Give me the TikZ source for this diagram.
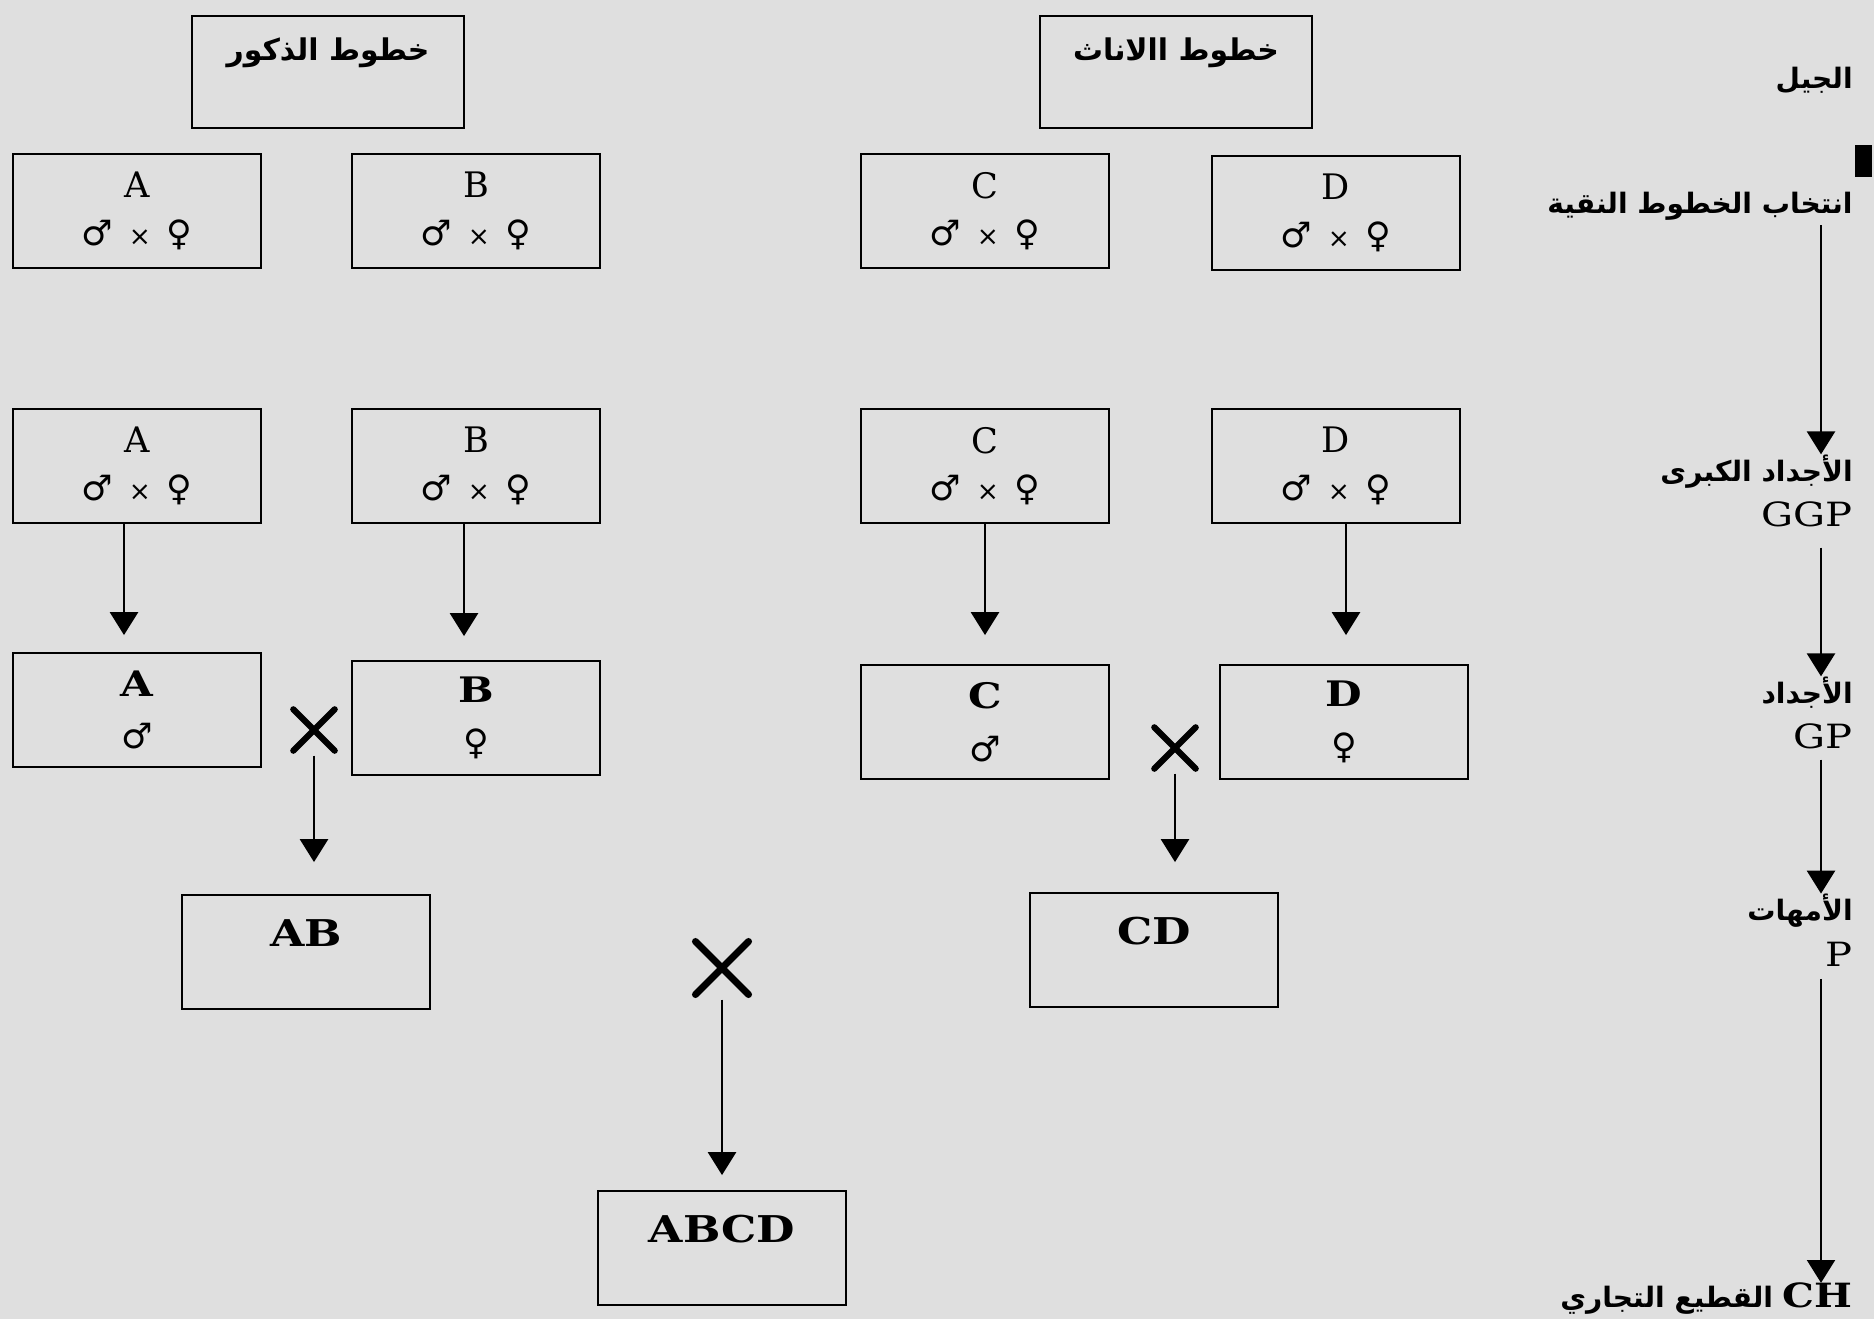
\documentclass[tikz,border=0pt]{standalone}
\usepackage{fontspec}
\usetikzlibrary{arrows.meta,shapes.misc}
\TeXXeTstate=1
\newfontfamily\arabicfont[Script=Arabic]{DejaVu Sans}
\newfontfamily\letterfont{DejaVu Serif}
\newfontfamily\symfont{DejaVu Sans}
\newfontfamily\serifwide[FakeStretch=1.2]{DejaVu Serif}
\definecolor{bggray}{RGB}{223,223,223}
\newcommand{\arabtxt}[1]{{\arabicfont\bfseries\beginR #1\endR}}
\newcommand{\matingtxt}[1]{{\letterfont #1}\\{\symfont ♂\hspace{.45em}{\fontsize{15}{15}\selectfont ×}\hspace{.45em}♀}}
\newcommand{\parenttxt}[2]{{\serifwide\bfseries #1}\\{\symfont #2}}

\begin{document}
\begin{tikzpicture}[x=0.02cm,y=-0.02cm,
    box/.style={draw,line width=1.1pt,minimum width=4.96cm,minimum height=2.28cm,inner sep=0pt,align=center},
    pairbox/.style={box,font=\fontsize{20}{27}\selectfont},
    parentbox/.style={box,font=\fontsize{20}{30}\selectfont},
    headbox/.style={box,minimum width=5.44cm,minimum height=2.24cm,text depth=.9cm,font=\fontsize{17}{20}\selectfont},
    hybbox/.style={box,text depth=.75cm,font=\fontsize{21}{24}\selectfont\serifwide\bfseries},
    crossmark/.style={draw,cross out,line width=3.6pt,line cap=round,minimum size=#1,inner sep=0pt},
    arr/.style={-{Triangle[width=16pt,length=13pt]},line width=1pt},
    lab/.style={anchor=east,inner sep=0pt,align=right,font=\fontsize{16}{26}\selectfont}]
    \fill[bggray] (0,0) rectangle (1874,1319);
    % line headers
    \node[headbox] (male) at (328,72) {\arabtxt{خطوط  الذكور}};
    \node[headbox] (female) at (1176,72) {\arabtxt{خطوط االاناث}};
    % pure lines
    \node[pairbox] (a1) at (137,211) {\matingtxt{A}};
    \node[pairbox] (b1) at (476,211) {\matingtxt{B}};
    \node[pairbox] (c1) at (985,211) {\matingtxt{C}};
    \node[pairbox] (d1) at (1336,213) {\matingtxt{D}};
    % great grandparents
    \node[pairbox] (a2) at (137,466) {\matingtxt{A}};
    \node[pairbox] (b2) at (476,466) {\matingtxt{B}};
    \node[pairbox] (c2) at (985,466) {\matingtxt{C}};
    \node[pairbox] (d2) at (1336,466) {\matingtxt{D}};
    % grandparents
    \node[parentbox] (a3) at (137,710) {\parenttxt{A}{♂}};
    \node[parentbox] (b3) at (476,718) {\parenttxt{B}{♀}};
    \node[parentbox] (c3) at (985,722) {\parenttxt{C}{♂}};
    \node[parentbox] (d3) at (1344,722) {\parenttxt{D}{♀}};
    \draw[arr,shorten >=.34cm] ([xshift=-.26cm]a2.south) -- ([xshift=-.26cm]a3.north);
    \draw[arr,shorten >=.48cm] ([xshift=-.24cm]b2.south) -- ([xshift=-.24cm]b3.north);
    \draw[arr,shorten >=.58cm] (c2.south) -- (c2.south |- c3.north);
    \draw[arr,shorten >=.58cm] ([xshift=.2cm]d2.south) -- ([xshift=.2cm]d2.south |- d3.north);
    % parents
    \node[crossmark=.7cm] (xab) at (314,730) {};
    \node[crossmark=.7cm] (xcd) at (1175,748) {};
    \node[hybbox] (ab) at (306,952) {AB};
    \node[hybbox] (cd) at (1154,950) {CD};
    \draw[arr,shorten <=.1cm,shorten >=.64cm] (xab.south) -- (xab.south |- ab.north);
    \draw[arr,shorten <=.1cm,shorten >=.6cm] (xcd.south) -- (xcd.south |- cd.north);
    % commercial cross
    \node[crossmark=.92cm,line width=4pt] (xabcd) at (722,968) {};
    \node[hybbox] (abcd) at (722,1248) {ABCD};
    \draw[arr,shorten <=.1cm,shorten >=.3cm] (xabcd.south) -- (abcd.north);
    % generations
    \coordinate (ax) at (1821,0);
    \fill (1855,145) rectangle (1872,177);
    \node[lab] (gen) at (1853,80) {\arabtxt{الجيل}};
    \node[lab] (sel) at (1853,206) {\arabtxt{انتخاب الخطوط النقية}};
    \node[lab] (ggp) at (1853,491) {\arabtxt{الأجداد الكبرى}\\{\fontsize{19}{26}\selectfont\serifwide GGP}};
    \node[lab] (gp) at (1853,713) {\arabtxt{الأجداد}\\{\fontsize{19}{26}\selectfont\serifwide GP}};
    \node[lab] (p) at (1853,930) {\arabtxt{الأمهات}\\{\fontsize{19}{26}\selectfont\serifwide P}};
    \node[lab] (ch) at (1853,1299) {{\arabicfont\bfseries\beginR\beginL{\fontsize{19}{26}\selectfont\serifwide CH}\endL{} القطيع التجاري\endR}};
    \draw[arr,shorten <=.1cm] (sel.south -| ax) -- (ggp.north -| ax);
    \draw[arr,shorten <=.4cm] (ggp.south -| ax) -- (gp.north -| ax);
    \draw[arr,shorten <=.2cm] (gp.south -| ax) -- (p.north -| ax);
    \draw[arr,shorten <=.25cm] (p.south -| ax) -- (ch.north -| ax);
\end{tikzpicture}
\end{document}
